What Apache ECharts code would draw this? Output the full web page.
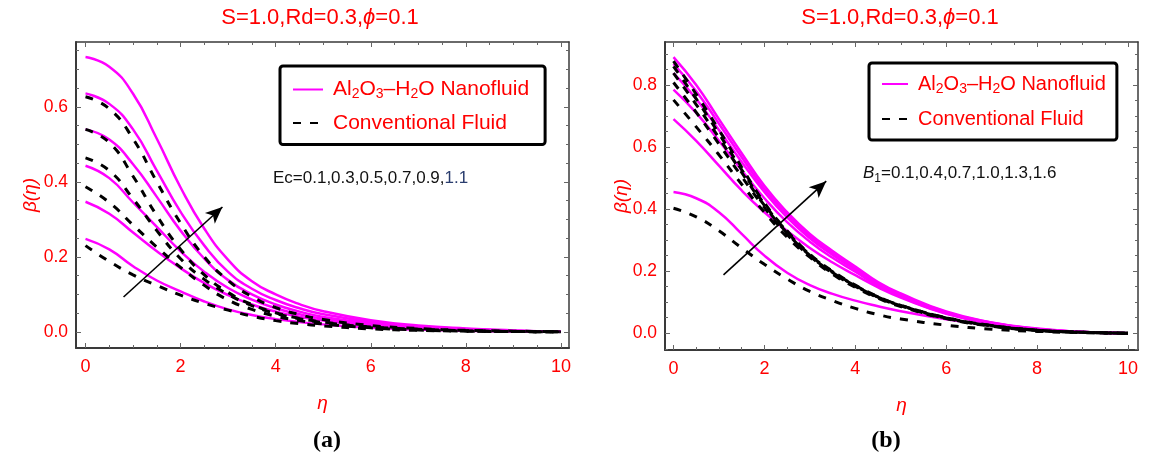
<!DOCTYPE html>
<html>
<head>
<meta charset="utf-8">
<title>beta(eta) profiles</title>
<script src="https://cdn.jsdelivr.net/npm/echarts@6/dist/echarts.min.js"></script>
<style>
html, body { margin: 0; padding: 0; background: #fff; }
#main { width: 1154px; height: 460px; }
</style>
</head>
<body>
<div id="main"></div>
<script>
// eta grid the curves were read at
var eta = [0, 0.5, 1, 1.5, 2, 2.5, 3, 3.5, 4, 4.5, 5, 6, 7, 8, 9, 10];

// (a) Ec = 0.1 ... 1.1, Al2O3-H2O nanofluid
var naEc01 = [0.248, 0.22, 0.175, 0.137, 0.108, 0.081, 0.06, 0.045, 0.034, 0.026, 0.02, 0.011, 0.006, 0.003, 0.001, 0];
var naEc03 = [0.347, 0.315, 0.265, 0.215, 0.17, 0.13, 0.098, 0.073, 0.054, 0.04, 0.03, 0.017, 0.009, 0.005, 0.002, 0];
var naEc05 = [0.443, 0.41, 0.345, 0.28, 0.215, 0.16, 0.117, 0.086, 0.063, 0.047, 0.035, 0.02, 0.011, 0.006, 0.002, 0];
var naEc07 = [0.54, 0.513, 0.447, 0.36, 0.27, 0.195, 0.138, 0.1, 0.073, 0.054, 0.04, 0.023, 0.013, 0.007, 0.003, 0];
var naEc09 = [0.636, 0.608, 0.54, 0.43, 0.32, 0.23, 0.16, 0.115, 0.085, 0.063, 0.047, 0.027, 0.015, 0.008, 0.003, 0];
var naEc11 = [0.733, 0.707, 0.635, 0.515, 0.385, 0.275, 0.192, 0.135, 0.1, 0.074, 0.055, 0.031, 0.017, 0.009, 0.004, 0];
// (a) conventional fluid (only five dashed curves are visible)
var cfEc01 = [0.23, 0.188, 0.152, 0.124, 0.098, 0.076, 0.058, 0.042, 0.03, 0.022, 0.016, 0.008, 0.004, 0.002, 0.001, 0];
var cfEc03 = [0.387, 0.345, 0.285, 0.226, 0.172, 0.124, 0.085, 0.06, 0.042, 0.03, 0.021, 0.011, 0.005, 0.002, 0.001, 0];
var cfEc05 = [0.464, 0.43, 0.355, 0.27, 0.195, 0.14, 0.1, 0.07, 0.049, 0.035, 0.025, 0.013, 0.007, 0.003, 0.001, 0];
var cfEc07 = [0.54, 0.505, 0.415, 0.31, 0.22, 0.152, 0.105, 0.073, 0.051, 0.036, 0.026, 0.013, 0.007, 0.003, 0.001, 0];
var cfEc09 = [0.627, 0.595, 0.515, 0.4, 0.29, 0.2, 0.137, 0.094, 0.065, 0.046, 0.033, 0.017, 0.009, 0.004, 0.002, 0];

// (b) B1 = 0.1 ... 1.6, nanofluid
var naB01 = [0.455, 0.435, 0.39, 0.32, 0.25, 0.195, 0.155, 0.127, 0.105, 0.087, 0.071, 0.045, 0.025, 0.011, 0.003, 0];
var naB04 = [0.69, 0.62, 0.54, 0.46, 0.39, 0.33, 0.275, 0.228, 0.187, 0.148, 0.115, 0.063, 0.031, 0.013, 0.004, 0];
var naB07 = [0.785, 0.71, 0.62, 0.525, 0.435, 0.358, 0.295, 0.243, 0.198, 0.153, 0.118, 0.064, 0.032, 0.013, 0.004, 0];
var naB10 = [0.838, 0.755, 0.655, 0.552, 0.455, 0.373, 0.306, 0.252, 0.205, 0.158, 0.122, 0.066, 0.033, 0.014, 0.004, 0];
var naB13 = [0.868, 0.78, 0.675, 0.567, 0.465, 0.382, 0.313, 0.258, 0.21, 0.162, 0.125, 0.068, 0.034, 0.014, 0.004, 0];
var naB16 = [0.89, 0.8, 0.69, 0.58, 0.475, 0.39, 0.32, 0.265, 0.215, 0.165, 0.128, 0.07, 0.035, 0.015, 0.004, 0];
// (b) conventional fluid
var cfB01 = [0.403, 0.375, 0.33, 0.275, 0.222, 0.175, 0.135, 0.105, 0.08, 0.06, 0.046, 0.026, 0.013, 0.006, 0.002, 0];
var cfB04 = [0.752, 0.665, 0.575, 0.48, 0.39, 0.31, 0.245, 0.19, 0.148, 0.113, 0.086, 0.047, 0.023, 0.009, 0.003, 0];
var cfB07 = [0.808, 0.712, 0.61, 0.505, 0.405, 0.318, 0.249, 0.194, 0.151, 0.115, 0.088, 0.048, 0.024, 0.009, 0.003, 0];
var cfB10 = [0.838, 0.737, 0.63, 0.518, 0.412, 0.323, 0.251, 0.196, 0.153, 0.116, 0.089, 0.049, 0.024, 0.01, 0.003, 0];
var cfB13 = [0.86, 0.755, 0.643, 0.527, 0.416, 0.327, 0.253, 0.198, 0.154, 0.117, 0.09, 0.05, 0.025, 0.01, 0.003, 0];
var cfB16 = [0.877, 0.77, 0.655, 0.535, 0.42, 0.33, 0.255, 0.2, 0.155, 0.118, 0.09, 0.05, 0.025, 0.01, 0.003, 0];

// ticks
var xTicks = [0, 2, 4, 6, 8, 10];
var yTicksA = [0, 0.2, 0.4, 0.6];
var yTicksB = [0, 0.2, 0.4, 0.6, 0.8];

// direction arrows [eta, beta] start -> tip
var arrowA = [[0.8, 0.093], [2.88, 0.333]];
var arrowB = [[1.1, 0.188], [3.36, 0.49]];

var font = '"Liberation Sans", Arial, sans-serif';
var red = '#ff0000';
var frameColor = '#3a3a3a';

function steps(from, to, step) {
    var out = [];
    for (var v = from; v <= to + 1e-9; v += step) out.push(+v.toFixed(3));
    return out;
}
var xMinor = steps(0, 10, 0.5);

function tick(vals, len) {
    return { show: true, inside: true, length: len, customValues: vals, lineStyle: { color: '#666', width: 1 } };
}
function frameLine(w) {
    return { show: true, onZero: false, lineStyle: { color: frameColor, width: w } };
}
var noLine = { show: false, onZero: false };

function xAxesFor(gi, min, max) {
    var base = { gridIndex: gi, type: 'value', min: min, max: max, offset: 0, splitLine: { show: false } };
    return [
        Object.assign({}, base, {
            position: 'bottom', axisLine: frameLine(2), axisTick: tick(xTicks, 5),
            axisLabel: { show: true, customValues: xTicks, color: red, fontSize: 18, fontFamily: font, margin: 10 },
            name: 'η', nameLocation: 'middle', nameGap: 46, nameMoveOverlap: false,
            nameTextStyle: { color: red, fontSize: 19, fontStyle: 'italic', fontFamily: font }
        }),
        Object.assign({}, base, { position: 'bottom', axisLine: noLine, axisTick: tick(xMinor, 3), axisLabel: { show: false } }),
        Object.assign({}, base, { position: 'top', axisLine: frameLine(1.5), axisTick: tick(xTicks, 5), axisLabel: { show: false } }),
        Object.assign({}, base, { position: 'top', axisLine: noLine, axisTick: tick(xMinor, 3), axisLabel: { show: false } })
    ];
}

function yAxesFor(gi, min, max, major, minor, nameGap) {
    var base = { gridIndex: gi, type: 'value', min: min, max: max, offset: 0, splitLine: { show: false } };
    return [
        Object.assign({}, base, {
            position: 'left', axisLine: frameLine(2), axisTick: tick(major, 5),
            axisLabel: {
                show: true, customValues: major, color: red, fontSize: 17.5, fontFamily: font, margin: 8,
                formatter: function (v) { return v.toFixed(1); }
            },
            name: 'β(η)', nameLocation: 'middle', nameGap: nameGap, nameMoveOverlap: false,
            nameTextStyle: { color: red, fontSize: 19, fontStyle: 'italic', fontFamily: font }
        }),
        Object.assign({}, base, { position: 'left', axisLine: noLine, axisTick: tick(minor, 3), axisLabel: { show: false } }),
        Object.assign({}, base, { position: 'right', axisLine: frameLine(1.5), axisTick: tick(major, 5), axisLabel: { show: false } }),
        Object.assign({}, base, { position: 'right', axisLine: noLine, axisTick: tick(minor, 3), axisLabel: { show: false } })
    ];
}

function curve(name, vals, gi, dashed) {
    return {
        name: name, type: 'line', xAxisIndex: gi * 4, yAxisIndex: gi * 4,
        data: eta.map(function (e, i) { return [e, vals[i]]; }),
        smooth: 0.5, symbol: 'none', showSymbol: false, silent: true,
        lineStyle: dashed ? { color: '#000', width: 3, type: [8, 9] } : { color: '#ff00ff', width: 2.5 },
        itemStyle: { color: dashed ? '#000' : '#ff00ff' },
        z: dashed ? 3 : 2
    };
}

function arrow(gi, pts) {
    return {
        type: 'line', xAxisIndex: gi * 4, yAxisIndex: gi * 4, data: [], silent: true,
        markLine: {
            silent: true, animation: false, symbol: ['none', 'arrow'], symbolSize: [11, 17],
            label: { show: false }, lineStyle: { color: '#000', width: 1.6, type: 'solid' },
            emphasis: { disabled: true },
            data: [[{ coord: pts[0] }, { coord: pts[1] }]]
        },
        z: 5
    };
}

function legendRich(size) {
    return {
        t: { color: red, fontSize: size, fontFamily: font, lineHeight: 24 },
        s: { color: red, fontSize: Math.round(size * 0.68), fontFamily: font, lineHeight: 24, verticalAlign: 'bottom' }
    };
}
function legendText(name) {
    if (name.charAt(1) === 'N') return '{t|Al}{s|2}{t|O}{s|3}{t|–H}{s|2}{t|O Nanofluid}';
    return '{t|Conventional Fluid}';
}

var series = [
    curve('aN', naEc01, 0), curve('aN', naEc03, 0), curve('aN', naEc05, 0),
    curve('aN', naEc07, 0), curve('aN', naEc09, 0), curve('aN', naEc11, 0),
    curve('aC', cfEc01, 0, true), curve('aC', cfEc03, 0, true), curve('aC', cfEc05, 0, true),
    curve('aC', cfEc07, 0, true), curve('aC', cfEc09, 0, true),
    curve('bN', naB01, 1), curve('bN', naB04, 1), curve('bN', naB07, 1),
    curve('bN', naB10, 1), curve('bN', naB13, 1), curve('bN', naB16, 1),
    curve('bC', cfB01, 1, true), curve('bC', cfB04, 1, true), curve('bC', cfB07, 1, true),
    curve('bC', cfB10, 1, true), curve('bC', cfB13, 1, true), curve('bC', cfB16, 1, true),
    arrow(0, arrowA), arrow(1, arrowB)
];

var titleStyle = {
    color: red, fontSize: 22, fontFamily: font, fontWeight: 'normal',
    rich: { p: { color: red, fontSize: 22, fontFamily: font, fontStyle: 'italic' } }
};
var capStyle = { color: '#000', fontSize: 24, fontWeight: 'bold', fontFamily: '"Liberation Serif", "Times New Roman", serif' };

var legendBase = {
    orient: 'vertical', selectedMode: false, itemHeight: 14,
    borderColor: '#000', borderWidth: 3, borderRadius: 3, backgroundColor: '#fff',
    itemStyle: { opacity: 0 }, formatter: legendText
};

var option = {
    animation: false,
    backgroundColor: '#fff',
    title: [
        { text: 'S=1.0,Rd=0.3,{p|ϕ}=0.1', left: 315, top: 2, textAlign: 'center', textStyle: titleStyle },
        { text: 'S=1.0,Rd=0.3,{p|ϕ}=0.1', left: 895, top: 2, textAlign: 'center', textStyle: titleStyle },
        { text: '(a)', left: 322, top: 424, textAlign: 'center', textStyle: capStyle },
        { text: '(b)', left: 881, top: 424, textAlign: 'center', textStyle: capStyle }
    ],
    grid: [
        { left: 76, top: 42, width: 493, height: 306 },
        { left: 665, top: 42, width: 473, height: 308 }
    ],
    xAxis: xAxesFor(0, -0.2, 10.17).concat(xAxesFor(1, -0.187, 10.22)),
    yAxis: yAxesFor(0, -0.043, 0.773, yTicksA, steps(0, 0.75, 0.05), 36)
        .concat(yAxesFor(1, -0.054, 0.9385, yTicksB, steps(-0.05, 0.9, 0.05), 34)),
    legend: [
        Object.assign({}, legendBase, {
            data: ['aN', 'aC'], left: 280, top: 66, itemWidth: 30, itemGap: 11, padding: [13, 16, 11, 12],
            textStyle: { color: red, fontFamily: font, padding: [0, 0, 0, 5], rich: legendRich(21) }
        }),
        Object.assign({}, legendBase, {
            data: ['bN', 'bC'], left: 869, top: 63, itemWidth: 26, itemGap: 13, padding: [11, 11, 11, 12],
            textStyle: { color: red, fontFamily: font, padding: [0, 0, 0, 5], rich: legendRich(20) }
        })
    ],
    graphic: [
        {
            type: 'text', left: 273, top: 170, silent: true,
            style: {
                text: '{n|Ec=0.1,0.3,0.5,0.7,0.9,}{m|1.1}',
                rich: {
                    n: { fill: '#111', fontSize: 17, fontFamily: font },
                    m: { fill: '#2a3d6e', fontSize: 17, fontFamily: font }
                }
            }
        },
        {
            type: 'text', left: 863, top: 165, silent: true,
            style: {
                text: '{i|B}{s|1}{n|=0.1,0.4,0.7,1.0,1.3,1.6}',
                rich: {
                    i: { fill: '#111', fontSize: 17, fontFamily: font, fontStyle: 'italic', lineHeight: 22 },
                    s: { fill: '#111', fontSize: 12, fontFamily: font, lineHeight: 22, verticalAlign: 'bottom' },
                    n: { fill: '#111', fontSize: 17, fontFamily: font, lineHeight: 22 }
                }
            }
        }
    ],
    series: series
};

var chart = echarts.init(document.getElementById('main'));
chart.setOption(option);
</script>
</body>
</html>
